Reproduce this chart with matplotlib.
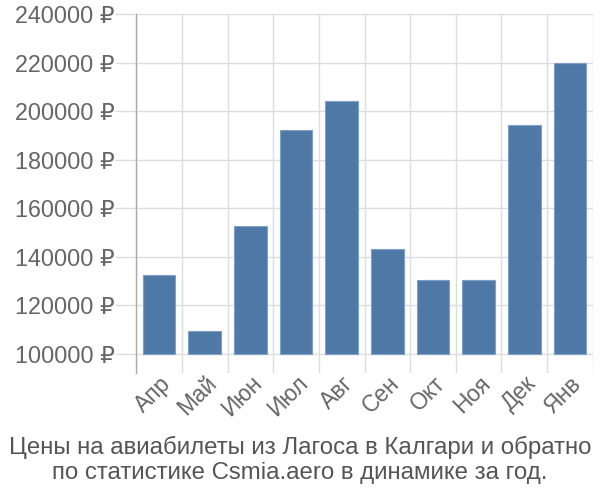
import matplotlib.pyplot as plt
import numpy as np

months = ['Апр', 'Май', 'Июн', 'Июл', 'Авг', 'Сен', 'Окт', 'Ноя', 'Дек', 'Янв']
prices = [132400, 109200, 152800, 192000, 204200, 143100, 130500, 130200, 194400, 220000]
yticks = [100000, 120000, 140000, 160000, 180000, 200000, 220000, 240000]
title = 'Цены на авиабилеты из Лагоса в Калгари и обратно\nпо статистике Csmia.aero в динамике за год.'

plt.rcParams['font.family'] = ['Liberation Sans', 'DejaVu Sans']

fig = plt.figure(figsize=(6, 5), dpi=100)
ax = fig.add_axes([0.227, 0.254, 0.761, 0.718])

base = 100000
x = np.arange(len(months))
ax.bar(x, [p - base for p in prices], bottom=base, width=0.71,
       color='#4e79a7', edgecolor='#7f9fc4', linewidth=0.8, zorder=3)

ax.set_xlim(-0.5, len(months) - 0.5)
ax.set_ylim(92000, 240000)

ax.set_yticks(yticks)
ax.set_yticklabels([f'{v} ₽' for v in yticks], fontsize=16.8, color='#666666')
ax.tick_params(axis='y', length=15, color='#dddddd', width=1, pad=0.5)

ax.set_xticks(x)
ax.set_xticklabels(months, rotation=45, ha='right', rotation_mode='anchor',
                   fontsize=16.5, color='#666666')
ax.tick_params(axis='x', length=0, pad=-1)

# grid: horizontal at y ticks, vertical at category boundaries
for v in yticks:
    ax.axhline(v, color='#dddddd', linewidth=1, zorder=1)
for b in np.arange(-0.5, len(months), 1.0):
    ax.axvline(b, color='#dddddd', linewidth=1, zorder=1)

for s in ['top', 'right', 'bottom']:
    ax.spines[s].set_visible(False)
ax.spines['left'].set_color('#aaaaaa')
ax.spines['left'].set_linewidth(1)

fig.text(0.5, 0.08, title, ha='center', va='center', fontsize=17.3,
         color='#555555', linespacing=1.15)

fig.savefig('out.png', dpi=100)
